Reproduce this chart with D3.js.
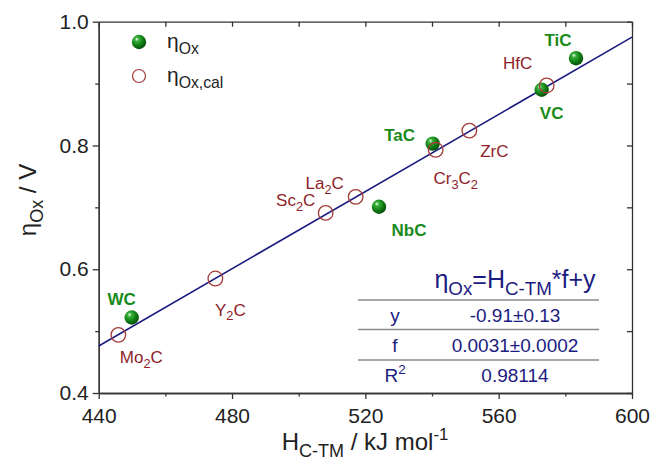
<!DOCTYPE html>
<html>
<head>
<meta charset="utf-8">
<script src="https://cdn.jsdelivr.net/npm/d3@7"></script>
<style>
  body { margin: 0; background: #fff; }
  svg { font-family: "Liberation Sans", Arial, sans-serif; }
</style>
</head>
<body>
<svg id="chart" width="653" height="463" viewBox="0 0 653 463"></svg>
<script>
// measured (filled) and calculated (open) overpotentials
const measNames = ["TiC", "VC", "TaC", "NbC", "WC"];
const measH = [583.2, 572.9, 540.2, 524.1, 449.9];
const measEta = [0.941, 0.890, 0.803, 0.701, 0.522];

const calNames = ["HfC", "ZrC", "Cr_{3}C_{2}", "La_{2}C", "Sc_{2}C", "Y_{2}C", "Mo_{2}C"];
const calH = [574.4, 551.2, 541.1, 517.1, 508.1, 475.0, 445.9];
const calEta = [0.897, 0.824, 0.793, 0.717, 0.691, 0.585, 0.494];

// linear fit, read at the two ends of the plot
const fitH = [440, 600];
const fitEta = [0.476, 0.975];

const xMajor = [440, 480, 520, 560, 600];
const xMinor = [460, 500, 540, 580];
const yMajor = [0.4, 0.6, 0.8, 1.0];
const yMinor = [0.5, 0.7, 0.9];

const tableKeys = ["y", "f", "R^{2}"];
const tableVals = ["-0.91\u00b10.13", "0.0031\u00b10.0002", "0.98114"];

// label offsets from their point, in px
const measOff = [[-18, -18], [10, 23], [-33, -9], [30, 23], [-10, -18]];
const calOff = [[-29, -22], [25, 20], [20, 28], [-31, -14], [-30, -13], [15, 31], [23, 22]];

const green = "#1a8a1a", red = "#8e1e28", navy = "#1c1c80", axisCol = "#333";

let svg = d3.select("#chart");
let margins = {top: 21.7, right: 21, bottom: 70, left: 98.7};
let width = 653 - margins.left - margins.right;
let height = 393 - margins.top;

let x = d3.scaleLinear([440, 600], [0, width]);
let y = d3.scaleLinear([0.4, 1.0], [height, 0]);

// write "a_{sub}b^{sup}" as tspans
function rich(sel, str, size) {
    let parts = str.split(/(_\{[^}]*\}|\^\{[^}]*\})/).filter(s => s.length);
    let shift = 0;
    parts.forEach(p => {
        let t = sel.append("tspan");
        let want = 0, txt = p, fs = size;
        if (p.startsWith("_{")) { want = 0.28 * size; txt = p.slice(2, -1); fs = size * 0.75; }
        else if (p.startsWith("^{")) { want = -0.4 * size; txt = p.slice(2, -1); fs = size * 0.7; }
        t.attr("dy", want - shift).style("font-size", fs + "px").text(txt);
        shift = want;
    });
    return sel;
}

let defs = svg.append("defs");
let grad = defs.append("radialGradient").attr("id", "ball")
    .attr("cx", "38%").attr("cy", "35%").attr("r", "65%").attr("fx", "35%").attr("fy", "30%");
grad.append("stop").attr("offset", "0%").attr("stop-color", "#f4fff4");
grad.append("stop").attr("offset", "22%").attr("stop-color", "#3cb03c");
grad.append("stop").attr("offset", "65%").attr("stop-color", "#0f7e14");
grad.append("stop").attr("offset", "100%").attr("stop-color", "#08500a");

let chart = svg.append("g").attr("transform", `translate(${margins.left},${margins.top})`);

// axes: outward on left/bottom, inward on top/right
function styleAxis(g) {
    g.selectAll("path, line").attr("stroke", axisCol).attr("stroke-width", 1.3);
    g.selectAll("text").style("font-size", "21px").attr("fill", "#222");
}
chart.append("g").attr("transform", `translate(0,${height})`)
    .call(d3.axisBottom(x).tickValues(xMajor).tickSize(6).tickSizeOuter(0).tickPadding(9).tickFormat(d3.format("d")))
    .call(styleAxis);
chart.append("g").attr("transform", `translate(0,${height})`)
    .call(d3.axisBottom(x).tickValues(xMinor).tickSize(3.5).tickSizeOuter(0).tickFormat(""))
    .call(styleAxis);
chart.append("g")
    .call(d3.axisLeft(y).tickValues(yMajor).tickSize(6).tickSizeOuter(0).tickPadding(4).tickFormat(d3.format(".1f")))
    .call(styleAxis);
chart.append("g")
    .call(d3.axisLeft(y).tickValues(yMinor).tickSize(3.5).tickSizeOuter(0).tickFormat(""))
    .call(styleAxis);
chart.append("g")
    .call(d3.axisTop(x).tickValues(xMajor.concat(xMinor)).tickSize(-5).tickSizeOuter(0).tickFormat(""))
    .call(styleAxis);
chart.append("g").attr("transform", `translate(${width},0)`)
    .call(d3.axisRight(y).tickValues(yMajor.concat(yMinor)).tickSize(-5).tickSizeOuter(0).tickFormat(""))
    .call(styleAxis);

// fit line
chart.append("path")
    .datum(d3.zip(fitH, fitEta))
    .attr("d", d3.line().x(d => x(d[0])).y(d => y(d[1])))
    .attr("stroke", navy).attr("stroke-width", 1.6).attr("fill", "none");

// measured points
let meas = d3.zip(measNames, measH, measEta, measOff);
chart.selectAll(".meas").data(meas).enter().append("circle")
    .attr("class", "meas")
    .attr("cx", d => x(d[1])).attr("cy", d => y(d[2])).attr("r", 7.2)
    .attr("fill", "url(#ball)");

// calculated points
let cal = d3.zip(calNames, calH, calEta, calOff);
chart.selectAll(".cal").data(cal).enter().append("circle")
    .attr("class", "cal")
    .attr("cx", d => x(d[1])).attr("cy", d => y(d[2])).attr("r", 7.3)
    .attr("fill", "none").attr("stroke", "#a43a3a").attr("stroke-width", 1.3);

// labels
meas.forEach(d => {
    chart.append("text")
        .attr("x", x(d[1]) + d[3][0]).attr("y", y(d[2]) + d[3][1] + 6)
        .attr("text-anchor", "middle").attr("fill", green)
        .style("font-weight", "bold").style("font-size", "17px")
        .text(d[0]);
});
cal.forEach(d => {
    let t = chart.append("text")
        .attr("x", x(d[1]) + d[3][0]).attr("y", y(d[2]) + d[3][1] + 6)
        .attr("text-anchor", "middle").attr("fill", red).style("font-size", "17px");
    rich(t, d[0], 17);
});

// legend
let legend = svg.append("g");
legend.append("circle").attr("cx", 139).attr("cy", 42).attr("r", 7.2).attr("fill", "url(#ball)");
rich(legend.append("text").attr("x", 167).attr("y", 48).attr("fill", "#222").style("font-size", "21px"), "\u03b7_{Ox}", 21);
legend.append("circle").attr("cx", 139).attr("cy", 76).attr("r", 6.5)
    .attr("fill", "none").attr("stroke", "#a43a3a").attr("stroke-width", 1.2);
rich(legend.append("text").attr("x", 167).attr("y", 82).attr("fill", "#222").style("font-size", "21px"), "\u03b7_{Ox,cal}", 21);

// fit table
let table = svg.append("g").attr("fill", navy);
rich(table.append("text").attr("x", 515).attr("y", 288).attr("text-anchor", "middle").style("font-size", "25px"),
    "\u03b7_{Ox}=H_{C-TM}*f+y", 25);
[300, 329.5, 360].forEach(ly => {
    table.append("line").attr("x1", 358).attr("x2", 599).attr("y1", ly).attr("y2", ly)
        .attr("stroke", "#8a8a8a").attr("stroke-width", 1.5);
});
tableKeys.forEach((k, i) => {
    let cy = 322 + i * 30;
    rich(table.append("text").attr("x", 395).attr("y", cy).attr("text-anchor", "middle").style("font-size", "19px"), k, 19);
    table.append("text").attr("x", 515).attr("y", cy).attr("text-anchor", "middle").style("font-size", "19px").text(tableVals[i]);
});

// axis titles
rich(svg.append("text").attr("x", 365).attr("y", 450).attr("text-anchor", "middle")
    .attr("fill", "#222").style("font-size", "24px"), "H_{C-TM} / kJ mol^{-1}", 24);
rich(svg.append("text").attr("transform", "translate(36,200) rotate(-90)").attr("text-anchor", "middle")
    .attr("fill", "#222").style("font-size", "24px"), "\u03b7_{Ox} / V", 24);
</script>
</body>
</html>
